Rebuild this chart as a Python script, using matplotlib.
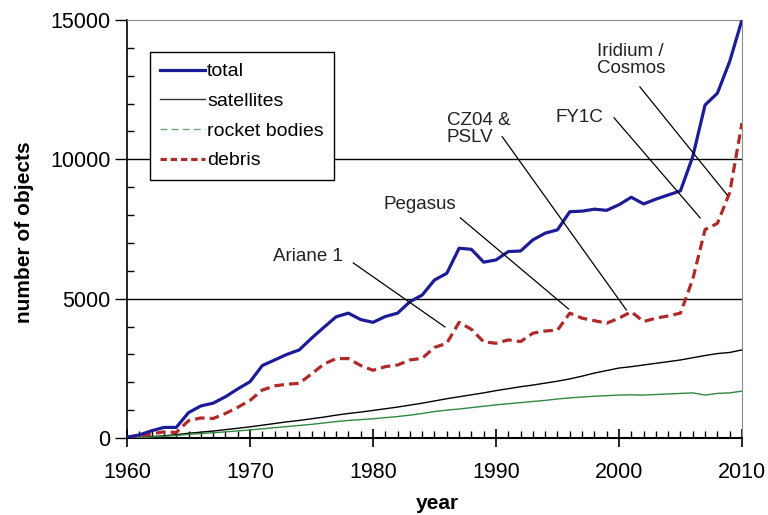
import numpy as np
import matplotlib
matplotlib.use("Agg")
import matplotlib.pyplot as plt
from matplotlib.lines import Line2D
from matplotlib.ticker import MultipleLocator

plt.rcParams['font.family'] = ['Liberation Sans', 'DejaVu Sans']

years = np.arange(1960, 2011)

total = [30, 110, 260, 380, 380, 910, 1150, 1250, 1480, 1760,
         2020, 2600, 2800, 3000, 3160, 3580, 3970, 4350, 4480, 4250,
         4150, 4360, 4480, 4890, 5130, 5670, 5910, 6810, 6770, 6310,
         6390, 6690, 6710, 7110, 7350, 7470, 8120, 8140, 8210, 8170,
         8370, 8640, 8400, 8570, 8720, 8870, 10100, 11950, 12370, 13510,
         15000]

satellites = [0, 20, 50, 80, 120, 170, 210, 250, 300, 350,
              400, 460, 520, 580, 630, 690, 750, 820, 880, 930,
              990, 1050, 1110, 1180, 1250, 1330, 1410, 1480, 1550, 1620,
              1700, 1770, 1840, 1900, 1970, 2040, 2120, 2220, 2330, 2420,
              2510, 2560, 2620, 2680, 2740, 2800, 2880, 2960, 3030, 3070,
              3160]

rocket_bodies = [0, 15, 35, 60, 90, 130, 160, 190, 220, 255,
                 290, 330, 370, 410, 450, 490, 540, 590, 630, 660,
                 690, 730, 770, 820, 880, 950, 1000, 1040, 1090, 1140,
                 1190, 1230, 1270, 1310, 1350, 1400, 1440, 1470, 1500, 1520,
                 1540, 1550, 1540, 1560, 1580, 1600, 1620, 1540, 1600, 1620,
                 1680]

debris = [20, 50, 150, 220, 200, 620, 720, 700, 880, 1100,
          1350, 1720, 1870, 1930, 1960, 2300, 2650, 2850, 2850, 2600,
          2430, 2560, 2620, 2800, 2860, 3250, 3400, 4150, 3900, 3450,
          3400, 3520, 3460, 3760, 3840, 3870, 4480, 4300, 4210, 4120,
          4300, 4530, 4180, 4300, 4380, 4480, 5700, 7480, 7700, 8800,
          11300]

# (label, text position, line start, line end)
events = [
    ("Ariane 1", (1974.7, 6500), (1978.4, 6280), (1985.85, 3985)),
    ("Pegasus", (1983.8, 8365), (1987.1, 7900), (1995.9, 4630)),
    ("CZ04 &\nPSLV", (1986.0, 11090), (1990.5, 10815), (2000.6, 4595)),
    ("FY1C", (1996.8, 11490), (1999.6, 11490), (2006.6, 7900)),
    ("Iridium /\nCosmos", (1998.2, 13570), (2001.7, 12600), (2008.8, 8720)),
]

blue = '#1c1c96'
red = '#b02a2a'
green = '#2e8a40'

fig = plt.figure(figsize=(7.68, 5.15), dpi=100)
ax = fig.add_axes([0.1654, 0.1495, 0.8007, 0.8117])

ax.axhline(5000, color='black', lw=1.0, zorder=1)
ax.axhline(10000, color='black', lw=1.0, zorder=1)

ax.plot(years, satellites, color='black', lw=1.0, zorder=3)
ax.plot(years, rocket_bodies, color=green, lw=1.0, zorder=3)
ax.plot(years, debris, color=red, lw=2.3, dashes=(3, 1.6), zorder=4)
ax.plot(years, total, color=blue, lw=2.3, zorder=5)

for label, tpos, p0, p1 in events:
    ha = 'left' if '\n' in label else 'center'
    ax.text(tpos[0], tpos[1], label, fontsize=13.5, ha=ha, va='center',
            linespacing=1.05, color='#222222', zorder=6)
    ax.plot([p0[0], p1[0]], [p0[1], p1[1]], color='black', lw=0.9, zorder=6)

ax.set_xlim(1960, 2010)
ax.set_ylim(0, 15000)
ax.xaxis.set_major_locator(MultipleLocator(10))
ax.xaxis.set_minor_locator(MultipleLocator(1))
ax.yaxis.set_major_locator(MultipleLocator(5000))
ax.yaxis.set_minor_locator(MultipleLocator(1000))

ax.tick_params(axis='x', which='major', direction='inout', length=13, width=1.2,
               labelsize=15.5, pad=11)
ax.tick_params(axis='x', which='minor', direction='in', length=5, width=1)
ax.tick_params(axis='y', which='major', direction='out', length=9, width=1,
               labelsize=15.5, pad=3)
ax.tick_params(axis='y', which='minor', direction='in', length=5, width=1)

for s in ['top', 'right']:
    ax.spines[s].set_color('#8a8a8a')
ax.spines['left'].set_linewidth(1.2)
ax.spines['bottom'].set_linewidth(1.5)

ax.set_ylabel('number of objects', fontsize=15, fontweight='bold')
ax.yaxis.set_label_coords(-0.151, 0.493)
ax.set_xlabel('year', fontsize=15, fontweight='bold')
ax.xaxis.set_label_coords(0.504, -0.135)

handles = [
    Line2D([], [], color=blue, lw=2.3),
    Line2D([], [], color='#333333', lw=1.0),
    Line2D([], [], color='#6aa67a', lw=1.0, dashes=(5, 3)),
    Line2D([], [], color=red, lw=2.3, dashes=(2, 1.2)),
]
leg = ax.legend(handles, ['total', 'satellites', 'rocket bodies', 'debris'],
                loc='upper left', bbox_to_anchor=(0.037, 0.923),
                fontsize=14, frameon=True, fancybox=False,
                handlelength=2.3, handletextpad=0.1, labelspacing=0.62,
                borderpad=0.55, borderaxespad=0)
leg.get_frame().set_edgecolor('black')
leg.get_frame().set_linewidth(1.0)
leg.get_frame().set_alpha(1)
leg.set_zorder(10)

fig.savefig('out.png', dpi=100)
